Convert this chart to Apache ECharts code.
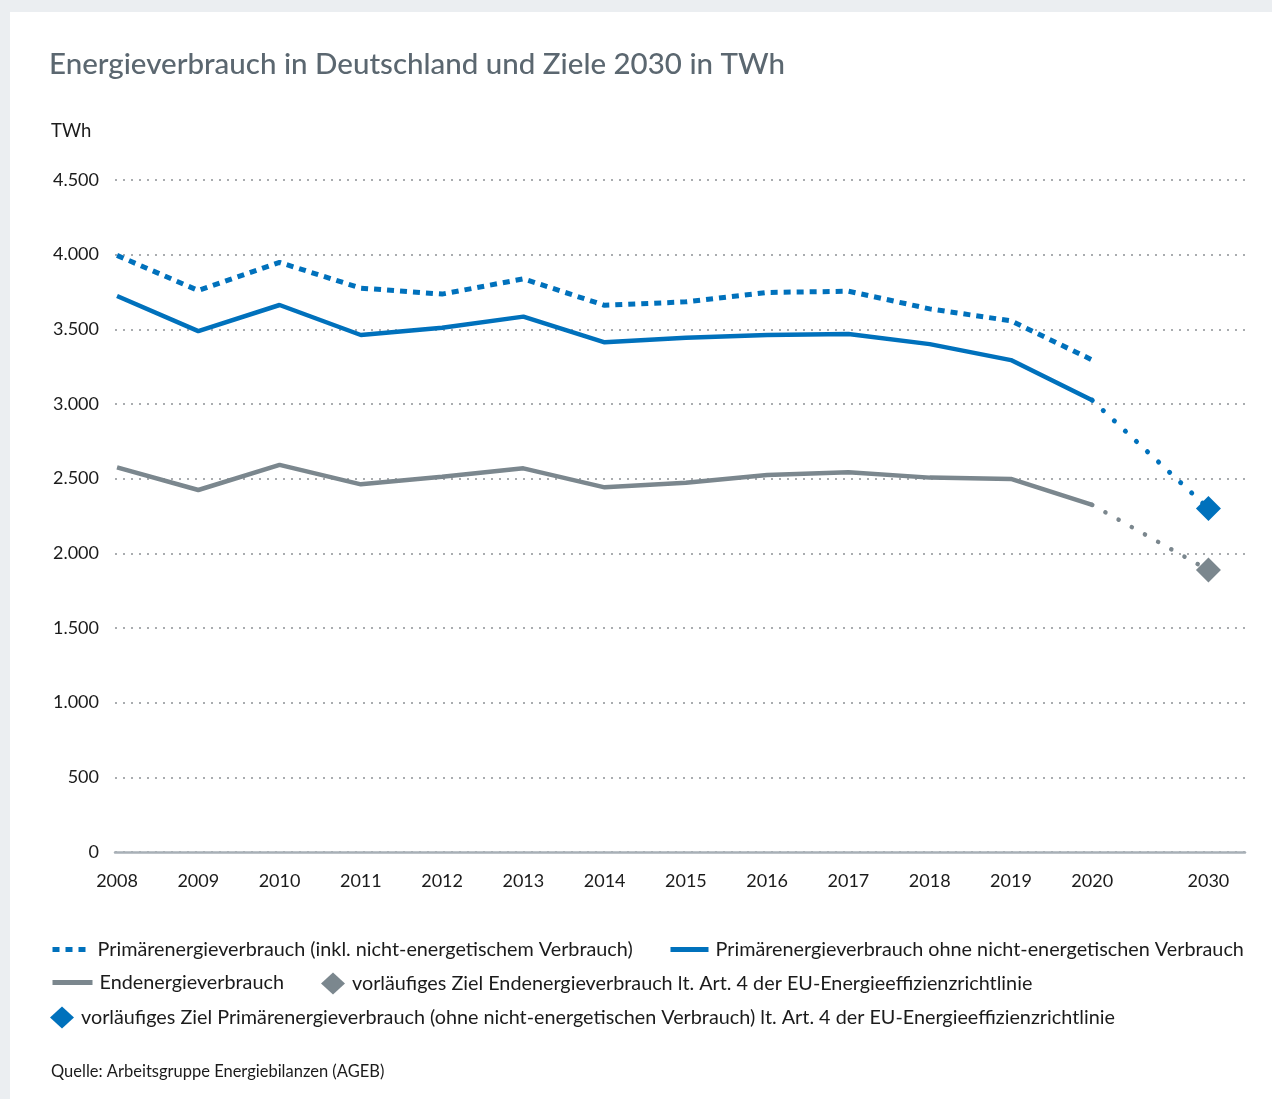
<!DOCTYPE html>
<html lang="de">
<head>
<meta charset="utf-8">
<title>Energieverbrauch in Deutschland und Ziele 2030 in TWh</title>
<script src="https://cdn.jsdelivr.net/npm/echarts@6/dist/echarts.min.js"></script>
<style>
  html, body {
    margin: 0;
    padding: 0;
    background: #ebeef1;
  }
  #chart {
    position: absolute;
    left: 10px;
    top: 12px;
    width: 1262px;
    height: 1087px;
    background: #fff;
  }
</style>
</head>
<body>
<div id="chart"></div>
<script>
// Jahre und Werte (TWh)
const years = [2008, 2009, 2010, 2011, 2012, 2013, 2014, 2015, 2016, 2017, 2018, 2019, 2020];
const primInkl = [3995, 3760, 3948, 3776, 3736, 3838, 3661, 3684, 3747, 3755, 3637, 3557, 3295];
const primOhne = [3723, 3488, 3663, 3462, 3511, 3585, 3413, 3444, 3462, 3469, 3401, 3294, 3025];
const endEnergie = [2576, 2424, 2592, 2462, 2513, 2569, 2442, 2473, 2525, 2543, 2507, 2498, 2324];
const targetYear = 2030;
const targetPrim = 2300;
const targetEnd = 1888;
const yTicks = [0, 500, 1000, 1500, 2000, 2500, 3000, 3500, 4000, 4500];

const names = [
  'Primärenergieverbrauch (inkl. nicht-energetischem Verbrauch)',
  'Primärenergieverbrauch ohne nicht-energetischen Verbrauch',
  'Endenergieverbrauch',
  'vorläufiges Ziel Endenergieverbrauch lt. Art. 4 der EU-Energieeffizienzrichtlinie',
  'vorläufiges Ziel Primärenergieverbrauch (ohne nicht-energetischen Verbrauch) lt. Art. 4 der EU-Energieeffizienzrichtlinie'
];

const BLUE = '#0071bc';
const GREY = '#7b878e';
const FONT = 'Lato, "Noto Sans", sans-serif';

// die Achse ist nach 2020 gestaucht (2020 -> 2030 ist ca. 1,43 Jahresabstände)
const xPos = year => (year <= 2020 ? year - 2008 : 12 + (year - 2020) * 0.143);
const allYears = years.concat([targetYear]);
const pairs = vals => years.map((y, i) => [xPos(y), vals[i]]);
const last = arr => arr[arr.length - 1];

const chart = echarts.init(document.getElementById('chart'));

// eine Legende je Eintrag, damit die Positionen wie im Original sitzen
const legendBase = (name, left, top, width, lineW) => {
  const lg = {
    data: [name],
    left: left,
    top: top,
    padding: 0,
    itemWidth: width,
    itemHeight: 22,
    selectedMode: false,
    textStyle: { fontSize: 19.8, color: '#1b1b1b', fontFamily: FONT, padding: [0, 0, 0, 2] }
  };
  if (lineW) {
    lg.lineStyle = { width: lineW };
    lg.itemStyle = { opacity: 0 };
  }
  return lg;
};

const option = {
  animation: false,
  textStyle: { fontFamily: FONT },
  title: [
    {
      text: 'Energieverbrauch in Deutschland und Ziele 2030 in TWh',
      left: 39,
      top: 37,
      padding: 0,
      textStyle: { fontSize: 29.5, fontWeight: 500, color: '#5b6770', fontFamily: FONT }
    },
    {
      text: 'TWh',
      left: 41,
      top: 110,
      padding: 0,
      textStyle: { fontSize: 18.5, fontWeight: 'normal', color: '#1b1b1b', fontFamily: FONT }
    },
    {
      text: 'Quelle: Arbeitsgruppe Energiebilanzen (AGEB)',
      left: 41,
      top: 1051,
      padding: 0,
      textStyle: { fontSize: 16.5, fontWeight: 'normal', color: '#1b1b1b', fontFamily: FONT }
    }
  ],
  legend: [
    legendBase(names[0], 40, 927.5, 38, 5),
    legendBase(names[1], 658, 927.5, 38, 5),
    legendBase(names[2], 40, 960.5, 40, 5),
    legendBase(names[3], 311, 960.5, 24, 0),
    legendBase(names[4], 40, 994.5, 24, 0)
  ],
  grid: {
    left: 105,
    right: 27,
    top: 168,
    bottom: 247,
    outerBoundsMode: 'none'
  },
  xAxis: {
    type: 'value',
    min: -0.025,
    max: 13.88,
    axisLine: { show: true, lineStyle: { color: '#a8b0b7', width: 2.5 } },
    axisTick: { show: false },
    splitLine: { show: false },
    axisLabel: {
      customValues: allYears.map(xPos),
      margin: 20,
      fontSize: 18,
      color: '#1b1b1b',
      formatter: v => {
        const y = allYears.find(yr => Math.abs(xPos(yr) - v) < 1e-6);
        return y === undefined ? '' : String(y);
      }
    }
  },
  yAxis: {
    type: 'value',
    min: yTicks[0],
    max: yTicks[yTicks.length - 1],
    interval: 500,
    axisLine: { show: false },
    axisTick: { show: false },
    splitLine: { lineStyle: { color: '#a9acaf', width: 2, type: [2, 6] } },
    axisLabel: {
      margin: 16,
      fontSize: 18,
      color: '#1b1b1b',
      formatter: v => v.toLocaleString('de-DE')
    }
  },
  series: [
    {
      name: names[0],
      type: 'line',
      symbol: 'none',
      data: pairs(primInkl),
      lineStyle: { color: BLUE, width: 5, type: [7, 6] },
      itemStyle: { color: BLUE }
    },
    {
      name: names[1],
      type: 'line',
      symbol: 'none',
      data: pairs(primOhne),
      lineStyle: { color: BLUE, width: 4.5 },
      itemStyle: { color: BLUE }
    },
    {
      name: names[2],
      type: 'line',
      symbol: 'none',
      data: pairs(endEnergie),
      lineStyle: { color: GREY, width: 4.5 },
      itemStyle: { color: GREY }
    },
    {
      name: 'Pfad Primär',
      type: 'line',
      symbol: 'none',
      data: [[xPos(2020), last(primOhne)], [xPos(targetYear), targetPrim]],
      lineStyle: { color: BLUE, width: 5, type: [0.1, 15], cap: 'round' }
    },
    {
      name: 'Pfad End',
      type: 'line',
      symbol: 'none',
      data: [[xPos(2020), last(endEnergie)], [xPos(targetYear), targetEnd]],
      lineStyle: { color: GREY, width: 4.5, type: [0.1, 15], cap: 'round' }
    },
    {
      name: names[3],
      type: 'scatter',
      symbol: 'diamond',
      symbolSize: 25,
      z: 5,
      data: [[xPos(targetYear), targetEnd]],
      itemStyle: { color: GREY, opacity: 1 }
    },
    {
      name: names[4],
      type: 'scatter',
      symbol: 'diamond',
      symbolSize: 25,
      z: 5,
      data: [[xPos(targetYear), targetPrim]],
      itemStyle: { color: BLUE, opacity: 1 }
    }
  ]
};

chart.setOption(option);
window.addEventListener('resize', () => chart.resize());
</script>
</body>
</html>
